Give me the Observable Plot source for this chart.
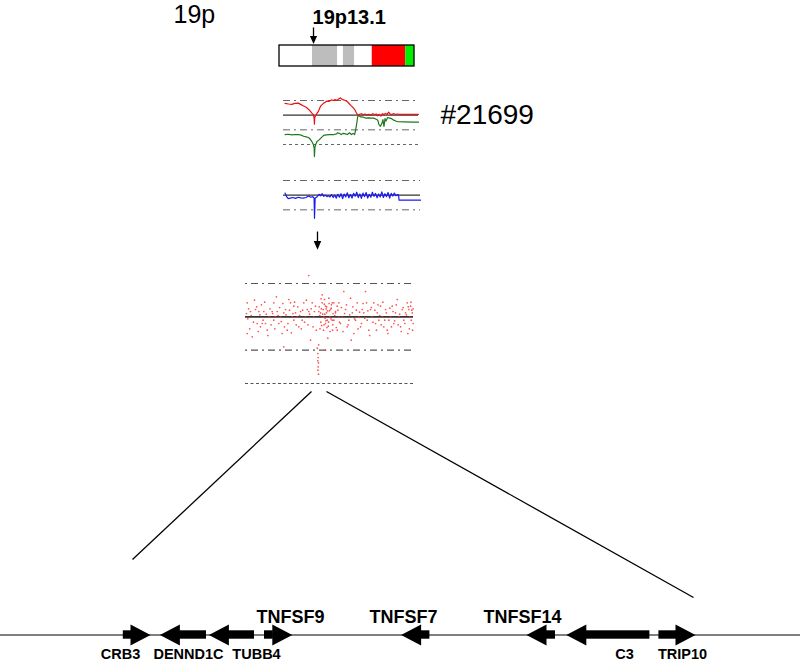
<!DOCTYPE html>
<html><head><meta charset="utf-8">
<script src="https://cdn.jsdelivr.net/npm/d3@7"></script>
<script src="https://cdn.jsdelivr.net/npm/@observablehq/plot@0.6"></script>
<style>
html,body{margin:0;padding:0;background:#fff;}
#fig{position:relative;width:800px;height:662px;overflow:hidden;}
#fig svg{position:absolute;left:0;top:0;background:transparent !important;overflow:visible;}
</style></head><body><div id="fig"></div>
<script>
// ---------------- data ----------------
const armLabel = "19p";
const bandLabel = "19p13.1";
const bandArrowMb = 6.6;
const sampleLabel = "#21699";

// ideogram of 19p (Mb)
const ideoStart = [0, 6.4, 11.3, 12.4, 14.6, 18.0, 24.5];
const ideoEnd   = [6.4, 11.3, 12.4, 14.6, 18.0, 24.5, 26.2];
const ideoStain = ["gneg", "gpos", "gneg", "gpos", "gneg", "gain", "cen"];

// array CGH profiles along 19p: [Mb, log2 ratio]
const redProfile = [[0.3,0.40],[1.0,0.38],[1.6,0.37],[2.2,0.40],[2.9,0.41],[3.4,0.36],[3.9,0.31],[4.4,0.27],[4.85,0.20],[5.2,0.14],[5.5,0.07],[5.8,0.02],[5.95,-0.12],[6.0,-0.31],[6.05,-0.10],[6.2,-0.02],[6.5,0.06],[6.8,0.14],[7.2,0.31],[7.5,0.36],[7.8,0.41],[8.1,0.44],[8.4,0.48],[8.8,0.47],[9.3,0.52],[9.7,0.50],[10.0,0.53],[10.3,0.50],[10.7,0.55],[11.05,0.59],[11.3,0.55],[11.65,0.52],[12.0,0.50],[12.2,0.48],[12.5,0.44],[12.8,0.38],[13.2,0.31],[13.5,0.26],[13.8,0.20],[14.15,0.07],[14.5,0.00],[14.8,0.03],[15.1,0.05],[15.4,0.02],[15.8,0.04],[16.2,0.01],[16.6,0.03],[17.0,0.00],[17.3,0.05],[17.6,0.02],[18.0,0.04],[18.3,-0.02],[18.6,0.03],[18.9,-0.03],[19.2,0.05],[19.5,0.02],[19.8,0.06],[20.1,0.03],[20.4,0.10],[20.7,0.04],[21.0,0.02],[21.3,0.05],[21.7,0.03],[22.1,0.04],[22.5,0.03],[23.5,0.03],[24.5,0.03],[25.5,0.03],[26.2,0.03]];
const greenProfile = [[0.3,-0.66],[1.0,-0.65],[1.6,-0.67],[2.2,-0.66],[2.9,-0.66],[3.4,-0.68],[3.9,-0.72],[4.4,-0.74],[4.85,-0.76],[5.2,-0.82],[5.5,-0.90],[5.8,-1.0],[5.95,-1.12],[6.0,-1.41],[6.1,-1.1],[6.3,-0.98],[6.5,-0.9],[6.8,-0.86],[7.2,-0.79],[7.5,-0.74],[7.8,-0.69],[8.3,-0.67],[9.0,-0.66],[9.8,-0.66],[10.3,-0.64],[10.5,-0.60],[10.8,-0.62],[11.2,-0.66],[11.6,-0.62],[12.0,-0.64],[12.4,-0.66],[12.8,-0.60],[13.2,-0.66],[13.5,-0.62],[13.8,-0.66],[14.0,-0.50],[14.2,-0.30],[14.4,-0.05],[14.6,-0.02],[15.0,-0.06],[15.5,-0.07],[16.0,-0.10],[16.5,-0.09],[17.0,-0.10],[17.5,-0.10],[18.0,-0.14],[18.3,-0.17],[18.5,-0.31],[18.8,-0.38],[19.1,-0.28],[19.3,-0.15],[19.5,-0.38],[19.7,-0.12],[19.9,-0.20],[20.2,-0.08],[20.6,-0.10],[21.0,-0.12],[21.4,-0.17],[21.8,-0.20],[22.1,-0.22],[23.5,-0.23],[25.0,-0.24],[26.2,-0.24]];
const blueProfile = [[0.3,0.07],[0.6,-0.05],[0.9,-0.12],[1.3,-0.10],[1.8,-0.08],[2.3,-0.11],[2.8,-0.07],[3.3,-0.09],[3.8,-0.10],[4.3,-0.08],[4.8,-0.03],[5.2,-0.07],[5.6,-0.05],[5.85,-0.10],[5.93,-0.79],[6.05,-0.10],[6.4,-0.06],[6.8,0.03],[7.1,-0.02],[7.4,0.05],[7.7,-0.04],[8.0,0.00],[8.3,-0.05],[8.6,-0.02],[8.9,-0.06],[9.2,0.02],[9.5,-0.08],[9.8,0.00],[10.1,-0.10],[10.4,0.03],[10.7,-0.07],[11.0,0.05],[11.3,-0.12],[11.6,0.04],[11.9,-0.06],[12.2,0.08],[12.5,-0.09],[12.8,0.02],[13.1,-0.10],[13.4,0.06],[13.7,-0.04],[14.0,0.10],[14.3,-0.08],[14.6,0.04],[14.9,-0.11],[15.2,0.07],[15.5,-0.05],[15.8,0.09],[16.1,-0.10],[16.4,0.03],[16.7,-0.07],[17.0,0.10],[17.3,-0.04],[17.6,0.06],[17.9,-0.09],[18.2,0.04],[18.5,-0.06],[18.8,0.11],[19.1,-0.08],[19.4,0.05],[19.7,-0.05],[20.0,0.09],[20.3,-0.10],[20.6,0.06],[20.9,-0.03],[21.2,0.07],[21.5,-0.02],[21.8,0.02],[22.0,0.01],[22.1,-0.17],[26.2,-0.17]];

// high-resolution oligo array around the deletion: [kb, log2 ratio]
const scatterPoints = [[5264,0.21],[5275,-0.03],[5264,-0.25],[5357,-0.30],[5326,0.08],[5419,0.11],[5451,-0.10],[5481,0.08],[5512,-0.15],[5544,-0.10],[5574,0.08],[5606,-0.10],[5638,-0.20],[5668,0.0],[5731,0.08],[5761,-0.05],[5761,0.21],[5793,0.0],[5825,0.08],[5855,-0.10],[5887,0.0],[5918,-0.25],[5948,0.06],[5980,0.11],[6012,-0.20],[6042,0.26],[6074,0.21],[6105,0.0],[6135,0.16],[6135,-0.05],[6167,0.06],[6199,0.0],[6229,-0.15],[6261,0.08],[6292,-0.05],[6322,0.21],[6354,0.0],[6386,0.11],[6416,0.62],[6416,0.08],[6448,-0.35],[6479,0.21],[6509,0.0],[6541,0.16],[6573,-0.47],[6585,-0.55],[6590,-0.61],[6585,-0.66],[6597,-0.69],[6590,-0.75],[6585,-0.80],[6597,-0.86],[6600,-0.42],[6603,0.08],[6665,0.33],[6665,0.21],[6685,0.11],[6696,0.0],[6709,0.26],[6728,0.16],[6728,-0.10],[6747,0.06],[6760,-0.05],[6771,-0.32],[6790,0.28],[6809,0.0],[6822,0.11],[6853,-0.05],[6884,0.21],[6915,0.06],[6947,0.16],[6977,0.0],[6620,0.02],[6640,-0.08],[6650,0.12],[6700,-0.12],[6715,0.04],[6735,-0.06],[6750,0.15],[6780,-0.14],[6800,0.09],[6830,-0.03],[6840,0.18],[6860,-0.20],[6870,0.05],[6853,0.21],[6884,-0.05],[6915,0.08],[6947,-0.20],[6977,0.21],[7008,-0.10],[7040,0.0],[7070,0.38],[7102,0.11],[7134,-0.15],[7164,-0.05],[7196,0.28],[7209,-0.35],[7229,0.06],[7257,-0.25],[7289,-0.05],[7321,0.21],[7351,0.0],[7383,-0.15],[7414,0.11],[7444,0.06],[7476,0.38],[7495,0.21],[7507,-0.05],[7538,-0.20],[7570,0.11],[7601,0.0],[7631,0.21],[7663,-0.10],[7695,0.06],[7725,-0.05],[7757,0.16],[7788,0.0],[7818,-0.15],[7850,0.11],[7882,-0.20],[7912,-0.05],[7944,0.0],[7975,0.16],[8005,-0.10],[8037,0.06],[8069,0.26],[8099,0.0],[8131,-0.15],[8163,0.11],[8192,-0.05],[8224,0.06],[8256,0.21],[8267,-0.25],[8286,0.11],[8305,0.0],[8318,0.16],[8331,-0.05],[8349,0.06],[8367,-0.10],[5250,0.05],[5290,0.12],[5310,-0.18],[5340,0.02],[5380,-0.08],[5400,0.25],[5440,0.15],[5470,-0.22],[5500,0.03],[5530,0.18],[5560,-0.05],[5590,0.22],[5620,0.04],[5650,-0.28],[5690,0.12],[5710,-0.12],[5740,0.05],[5780,-0.18],[5810,0.30],[5840,0.02],[5870,0.14],[5900,-0.07],[5930,0.20],[5960,-0.15],[5990,0.03],[6025,-0.10],[6055,0.10],[6090,-0.24],[6120,0.05],[6150,0.22],[6180,-0.12],[6210,0.15],[6245,0.02],[6275,-0.18],[6300,0.10],[6335,-0.08],[6370,0.25],[6400,-0.12],[6430,0.04],[6460,0.12],[6495,-0.15],[6520,0.08],[6555,-0.20],[6610,0.15],[6625,-0.18],[6635,0.06],[6645,0.27],[6655,-0.13],[6675,0.04],[6690,-0.20],[6705,0.19],[6720,-0.02],[6740,0.12],[6755,-0.16],[6765,0.09],[6785,-0.08],[6795,0.20],[6815,-0.22],[6835,0.13],[6865,-0.12],[6900,0.02],[6930,-0.16],[6960,0.10],[6990,-0.08],[7025,0.14],[7055,-0.22],[7085,0.05],[7120,0.18],[7150,-0.12],[7180,0.03],[7240,0.15],[7270,-0.03],[7305,0.10],[7335,-0.18],[7365,0.07],[7400,-0.10],[7430,0.20],[7460,-0.02],[7520,0.09],[7555,-0.28],[7585,0.14],[7615,-0.08],[7650,0.10],[7680,-0.20],[7710,0.18],[7740,0.02],[7770,-0.12],[7800,0.22],[7835,-0.05],[7865,0.06],[7895,-0.25],[7930,0.13],[7960,-0.15],[7990,0.08],[8020,-0.06],[8050,0.18],[8085,-0.12],[8115,0.04],[8145,-0.22],[8180,0.14],[8210,-0.10],[8240,0.03],[8275,0.15],[8295,-0.18],[8325,0.22],[8340,0.10],[8355,-0.20],[8365,0.12],[5948,-0.45],[6728,-0.50]];

// zoomed genomic window (kb)
const zoomStartKb = 6466;
const zoomEndKb = 6746.5;

// genes in the window (kb)
const geneNames   = ["CRB3", "DENND1C", "TUBB4", "TNFSF9", "TNFSF7", "TNFSF14", "C3", "TRIP10"];
const geneStartKb = [6461.4, 6479.7, 6504.2, 6532.0, 6600.3, 6663.0, 6682.9, 6729.2];
const geneEndKb   = [6475.0, 6503.0, 6527.0, 6545.9, 6614.7, 6677.5, 6724.7, 6747.5];
const geneStrand  = ["+", "-", "-", "+", "-", "-", "-", "+"];
const geneLabelKb = [6460, 6494, 6528, 6545, 6601.5, 6661, 6712, 6741];
const geneLabelSide = ["below", "below", "below", "above", "above", "above", "below", "below"];

// ---------------- drawing ----------------
const fig = document.getElementById("fig");
const FONT = "'Liberation Sans', Arial, Helvetica, sans-serif";
function panel(opts) {
  const svg = Plot.plot({
    width: 800, height: 662, margin: 0, axis: null,
    style: {background: "transparent", fontFamily: FONT, overflow: "visible"},
    ...opts
  });
  fig.appendChild(svg);
  return svg;
}
function downHead(x, yBase, yTip, half) {
  return [{x: x - half, y: yBase}, {x: x, y: yTip}, {x: x + half, y: yBase}];
}

// Ideogram
const ideoBands = ideoStart.map((s, i) => ({start: s, end: ideoEnd[i], stain: ideoStain[i]}));
const ideoX = {domain: [0, 26.2], range: [279, 414]};
panel({
  x: ideoX,
  y: {domain: [0, 1], range: [66, 45]},
  color: {domain: ["gneg", "gpos", "gain", "cen"], range: ["#ffffff", "#bdbdbd", "#ff0000", "#00ee00"]},
  marks: [
    Plot.rect(ideoBands, {x1: "start", x2: "end", y1: 0, y2: 1, fill: "stain"}),
    Plot.rect([0], {x1: 0, x2: 26.2, y1: 0, y2: 1, fill: "none", stroke: "black", strokeWidth: 1.3}),
    Plot.link([bandArrowMb], {x1: d => d, x2: d => d, y1: 1.86, y2: 1.3, stroke: "black", strokeWidth: 1.3}),
    Plot.line(downHead(bandArrowMb, 1.45, 1.07, 0.7), {x: "x", y: "y", fill: "black", stroke: "none"}),
    Plot.text([bandLabel], {x: bandArrowMb, y: 1, dy: -22, dx: -1, textAnchor: "start", lineAnchor: "bottom", fontSize: 20, fontWeight: "bold"}),
    Plot.text([armLabel], {x: 0, y: 1, dy: -23, dx: -106, textAnchor: "start", lineAnchor: "bottom", fontSize: 25})
  ]
});

// Red / green profile
panel({
  x: {domain: [0, 26.2], range: [283, 418]},
  y: {domain: [-1, 0.5], range: [144, 100]},
  marks: [
    Plot.ruleY([0.5, -0.5], {x1: 0, x2: 26.2, stroke: "#666", strokeWidth: 1, strokeDasharray: "7,4,2,4"}),
    Plot.ruleY([-1], {x1: 0, x2: 26.2, stroke: "#666", strokeWidth: 1, strokeDasharray: "3,3"}),
    Plot.ruleY([0], {x1: 0, x2: 26.2, stroke: "#333", strokeWidth: 1.2}),
    Plot.line(greenProfile, {x: d => d[0], y: d => d[1], stroke: "#1c7a1c", strokeWidth: 1.2}),
    Plot.line(redProfile, {x: d => d[0], y: d => d[1], stroke: "#ee1111", strokeWidth: 1.2}),
    Plot.text([sampleLabel], {x: 26.2, y: 0, dx: 22, textAnchor: "start", fontSize: 28})
  ]
});

// Blue profile
const blueArrowMb = 6.5;
panel({
  x: {domain: [0, 26.2], range: [283, 420]},
  y: {domain: [-1, 0.5], range: [224, 180]},
  marks: [
    Plot.ruleY([0.5, -0.5], {x1: 0, x2: 26.2, stroke: "#666", strokeWidth: 1, strokeDasharray: "7,4,2,4"}),
    Plot.ruleY([0], {x1: 0, x2: 26.2, stroke: "#333", strokeWidth: 1.2}),
    Plot.line(blueProfile, {x: d => d[0], y: d => d[1], stroke: "#1a1aee", strokeWidth: 1.2}),
    Plot.link([blueArrowMb], {x1: d => d, x2: d => d, y1: -1.24, y2: -1.6, stroke: "black", strokeWidth: 1.3}),
    Plot.line(downHead(blueArrowMb, -1.56, -1.86, 0.72), {x: "x", y: "y", fill: "black", stroke: "none"})
  ]
});

// High-resolution scatter
const scatterX = {domain: [5232, 8373], range: [245, 413]};
const scatterY = {domain: [-1, 0.5], range: [383, 283]};
panel({
  x: scatterX,
  y: scatterY,
  marks: [
    Plot.ruleY([0.5, -0.5], {x1: 5232, x2: 8373, stroke: "#555", strokeWidth: 1.2, strokeDasharray: "2,4,7,4"}),
    Plot.ruleY([-1], {x1: 5232, x2: 8373, stroke: "#555", strokeWidth: 1.2, strokeDasharray: "3,2.5"}),
    Plot.ruleY([0], {x1: 5232, x2: 8373, stroke: "#333", strokeWidth: 1.6}),
    Plot.dot(scatterPoints, {x: d => d[0], y: d => d[1], r: 0.85, fill: "#ff3030", stroke: "none", fillOpacity: 0.85})
  ]
});

// Gene track
const HEAD = 10; // kb, arrow head length
const genes = geneNames.map((name, i) => ({
  name, start: geneStartKb[i], end: geneEndKb[i], strand: geneStrand[i],
  labelKb: geneLabelKb[i], side: geneLabelSide[i]
}));
const bodies = genes.map(g => g.strand === "+" ? {x1: g.start, x2: g.end - HEAD + 0.5} : {x1: g.start + HEAD - 0.5, x2: g.end});
const heads = genes.flatMap(g => {
  const tip = g.strand === "+" ? g.end : g.start;
  const base = g.strand === "+" ? g.end - HEAD : g.start + HEAD;
  return [{gene: g.name, x: base, y: 1}, {gene: g.name, x: tip, y: 0}, {gene: g.name, x: base, y: -1}];
});
const geneX = {domain: [6400, 6800], range: [0, 800]};
panel({
  x: geneX,
  y: {domain: [-1, 1], range: [645, 624]},
  marks: [
    Plot.ruleY([0], {x1: 6400, x2: 6800, stroke: "black", strokeWidth: 1.1}),
    Plot.rect(bodies, {x1: "x1", x2: "x2", y1: -0.4, y2: 0.4, fill: "black"}),
    Plot.line(heads, {x: "x", y: "y", z: "gene", fill: "black", stroke: "none"}),
    Plot.text(genes.filter(g => g.side === "above"), {x: "labelKb", y: 1, dy: -2, text: "name", lineAnchor: "bottom", fontSize: 18, fontWeight: "bold"}),
    Plot.text(genes.filter(g => g.side === "below"), {x: "labelKb", y: -1, dy: 13, text: "name", lineAnchor: "bottom", fontSize: 14.5, fontWeight: "bold"})
  ]
});

// Connectors from the zoomed window to the gene track
const sx = d3.scaleLinear(scatterX.domain, scatterX.range);
const gx = d3.scaleLinear(geneX.domain, geneX.range);
const connectors = [
  {x1: sx(zoomStartKb), y1: 391, x2: gx(zoomStartKb), y2: 559},
  {x1: sx(zoomEndKb), y1: 391, x2: gx(zoomEndKb), y2: 597}
];
panel({
  x: {domain: [0, 800], range: [0, 800]},
  y: {domain: [0, 662], range: [0, 662]},
  marks: [
    Plot.link(connectors, {x1: "x1", y1: "y1", x2: "x2", y2: "y2", stroke: "black", strokeWidth: 1.3})
  ]
});
</script></body></html>
